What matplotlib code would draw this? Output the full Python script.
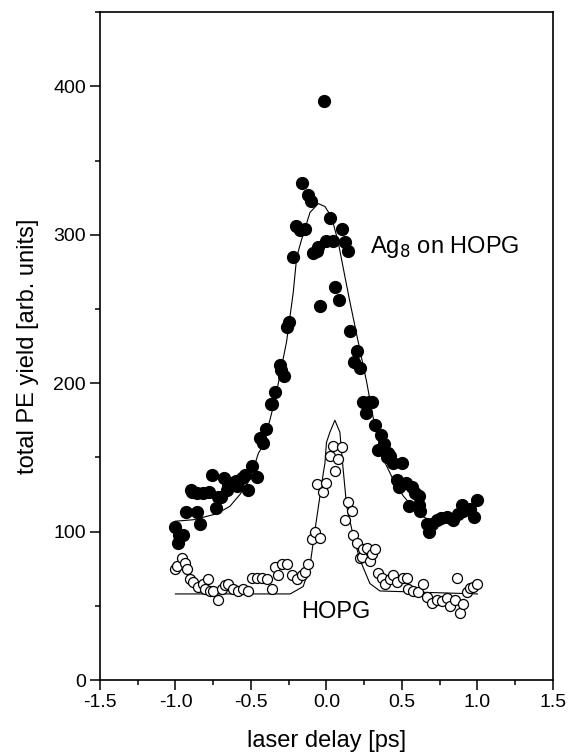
import numpy as np
import matplotlib
matplotlib.use('Agg')
import matplotlib.pyplot as plt
from matplotlib.ticker import MultipleLocator

plt.rcParams['font.family'] = ['Liberation Sans', 'DejaVu Sans']

# --- Ag8 on HOPG (filled circles) ---
ag_x = [-1.00, -0.98, -0.975, -0.95, -0.93, -0.90, -0.89, -0.86, -0.86, -0.84,
        -0.82, -0.78, -0.76, -0.73, -0.72, -0.70, -0.68, -0.66, -0.65, -0.63,
        -0.60, -0.595, -0.56, -0.54, -0.52, -0.49, -0.46, -0.44, -0.42, -0.40,
        -0.37, -0.36, -0.34, -0.31, -0.30, -0.28, -0.26, -0.25, -0.22, -0.20,
        -0.175, -0.16, -0.14, -0.12, -0.10, -0.087, -0.065, -0.054, -0.043, -0.015,
        0.0, 0.023, 0.045, 0.06, 0.08, 0.10, 0.12, 0.144, 0.156, 0.18,
        0.20, 0.22, 0.245, 0.26, 0.28, 0.30, 0.32, 0.34, 0.36, 0.38,
        0.40, 0.41, 0.42, 0.44, 0.465, 0.48, 0.50, 0.50, 0.53, 0.55,
        0.565, 0.585, 0.61, 0.61, 0.62, 0.665, 0.68, 0.70, 0.73, 0.76,
        0.80, 0.84, 0.87, 0.895, 0.905, 0.95, 0.98, 1.00]
ag_y = [103, 92, 98, 98, 113, 128, 127, 113, 126, 105,
        126, 127, 138, 116, 123, 123, 136, 128, 131, 133,
        134, 131, 136, 138, 128, 144, 137, 163, 160, 169,
        186, 186, 194, 212, 209, 205, 238, 241, 285, 306,
        303, 335, 304, 327, 323, 288, 289, 292, 252, 390,
        296, 311, 296, 265, 256, 304, 295, 289, 235, 214,
        222, 210, 187, 180, 187, 187, 172, 155, 165, 159,
        150, 153, 151, 146, 135, 130, 146, 132, 133, 117,
        130, 126, 118, 124, 114, 105, 100, 105, 108, 109,
        110, 108, 112, 118, 114, 115, 110, 121]

# fit curve for Ag8
ag_fit_x = [-1.00, -0.88, -0.727, -0.64, -0.573, -0.507, -0.45, -0.418, -0.34, -0.264,
            -0.22, -0.197, -0.164, -0.109, -0.054, -0.01, 0.034, 0.078, 0.122, 0.151,
            0.21, 0.266, 0.32, 0.376, 0.442, 0.509, 0.586, 0.64, 0.70]
ag_fit_y = [107, 108, 112, 117, 125, 135, 153, 158, 189, 228,
            261, 285, 297, 315, 321, 319, 312, 295, 272, 257,
            228, 201, 171, 149, 135, 124, 115, 110, 107]

# --- clean HOPG (open circles) ---
hopg_x = [-1.00, -0.99, -0.96, -0.937, -0.926, -0.904, -0.882, -0.849, -0.816, -0.805,
          -0.783, -0.772, -0.75, -0.716, -0.694, -0.672, -0.65, -0.617, -0.584, -0.55,
          -0.518, -0.495, -0.462, -0.43, -0.396, -0.363, -0.341, -0.319, -0.296, -0.264,
          -0.23, -0.197, -0.164, -0.142, -0.12, -0.098, -0.076, -0.065, -0.043, -0.021,
          0.0, 0.023, 0.045, 0.056, 0.078, 0.10, 0.122, 0.144, 0.166, 0.178,
          0.20, 0.222, 0.233, 0.244, 0.266, 0.288, 0.30, 0.32, 0.343, 0.366,
          0.387, 0.42, 0.442, 0.465, 0.509, 0.531, 0.542, 0.575, 0.608, 0.641,
          0.664, 0.697, 0.73, 0.763, 0.796, 0.818, 0.851, 0.862, 0.884, 0.906,
          0.928, 0.95, 0.972, 1.00]
hopg_y = [75, 77, 82, 79, 75, 68, 66, 63, 65, 61,
          68, 60, 60, 54, 61, 64, 65, 61, 60, 61,
          60, 69, 69, 69, 68, 61, 76, 71, 78, 78,
          71, 68, 71, 73, 78, 95, 100, 132, 96, 127,
          133, 151, 158, 141, 149, 157, 108, 120, 114, 98,
          92, 82, 83, 88, 89, 80, 85, 88, 72, 69,
          65, 68, 71, 66, 69, 69, 61, 60, 59, 65,
          56, 52, 54, 53, 55, 50, 54, 69, 45, 51,
          59, 62, 63, 65]

# fit curve for HOPG
hopg_fit_x = [-1.00, -0.24, -0.154, -0.109, -0.076, -0.043, -0.02, -0.01, 0.0, 0.023,
              0.056, 0.089, 0.107, 0.134, 0.178, 0.222, 0.288, 0.354, 1.00]
hopg_fit_y = [58, 58, 63, 77, 101, 124, 140, 146, 160, 167,
              175, 167, 146, 117, 97, 81, 65, 60, 58]

fig = plt.figure(figsize=(5.7, 7.56), dpi=100)
ax = fig.add_axes([0.1754, 0.1005, 0.7946, 0.8835])

ax.plot(ag_fit_x, ag_fit_y, color='black', linewidth=0.8)
ax.plot(hopg_fit_x, hopg_fit_y, color='black', linewidth=0.8)
ax.plot(ag_x, ag_y, 'o', color='black', markersize=8.5, linestyle='none')
ax.plot(hopg_x, hopg_y, 'o', markerfacecolor='white', markeredgecolor='black',
        markeredgewidth=0.9, markersize=7.2, linestyle='none')

ax.text(0.29, 292, 'Ag$_8$ on HOPG', fontsize=17, va='center', ha='left')
ax.text(0.063, 46, 'HOPG', fontsize=17, va='center', ha='center')

ax.set_xlim(-1.5, 1.5)
ax.set_ylim(0, 450)
ax.xaxis.set_major_locator(MultipleLocator(0.5))
ax.xaxis.set_minor_locator(MultipleLocator(0.25))
ax.yaxis.set_major_locator(MultipleLocator(100))
ax.yaxis.set_minor_locator(MultipleLocator(50))
ax.xaxis.set_major_formatter(matplotlib.ticker.FormatStrFormatter('%.1f'))
ax.tick_params(which='major', direction='out', length=7, width=1.1, labelsize=14, pad=3)
ax.tick_params(which='minor', direction='out', length=3.5, width=1.1)
for s in ax.spines.values():
    s.set_linewidth(1.2)

ax.set_xlabel('laser delay [ps]', fontsize=17, labelpad=14)
ax.set_ylabel('total PE yield [arb. units]', fontsize=17, labelpad=10)

fig.savefig('out.png', dpi=100)
